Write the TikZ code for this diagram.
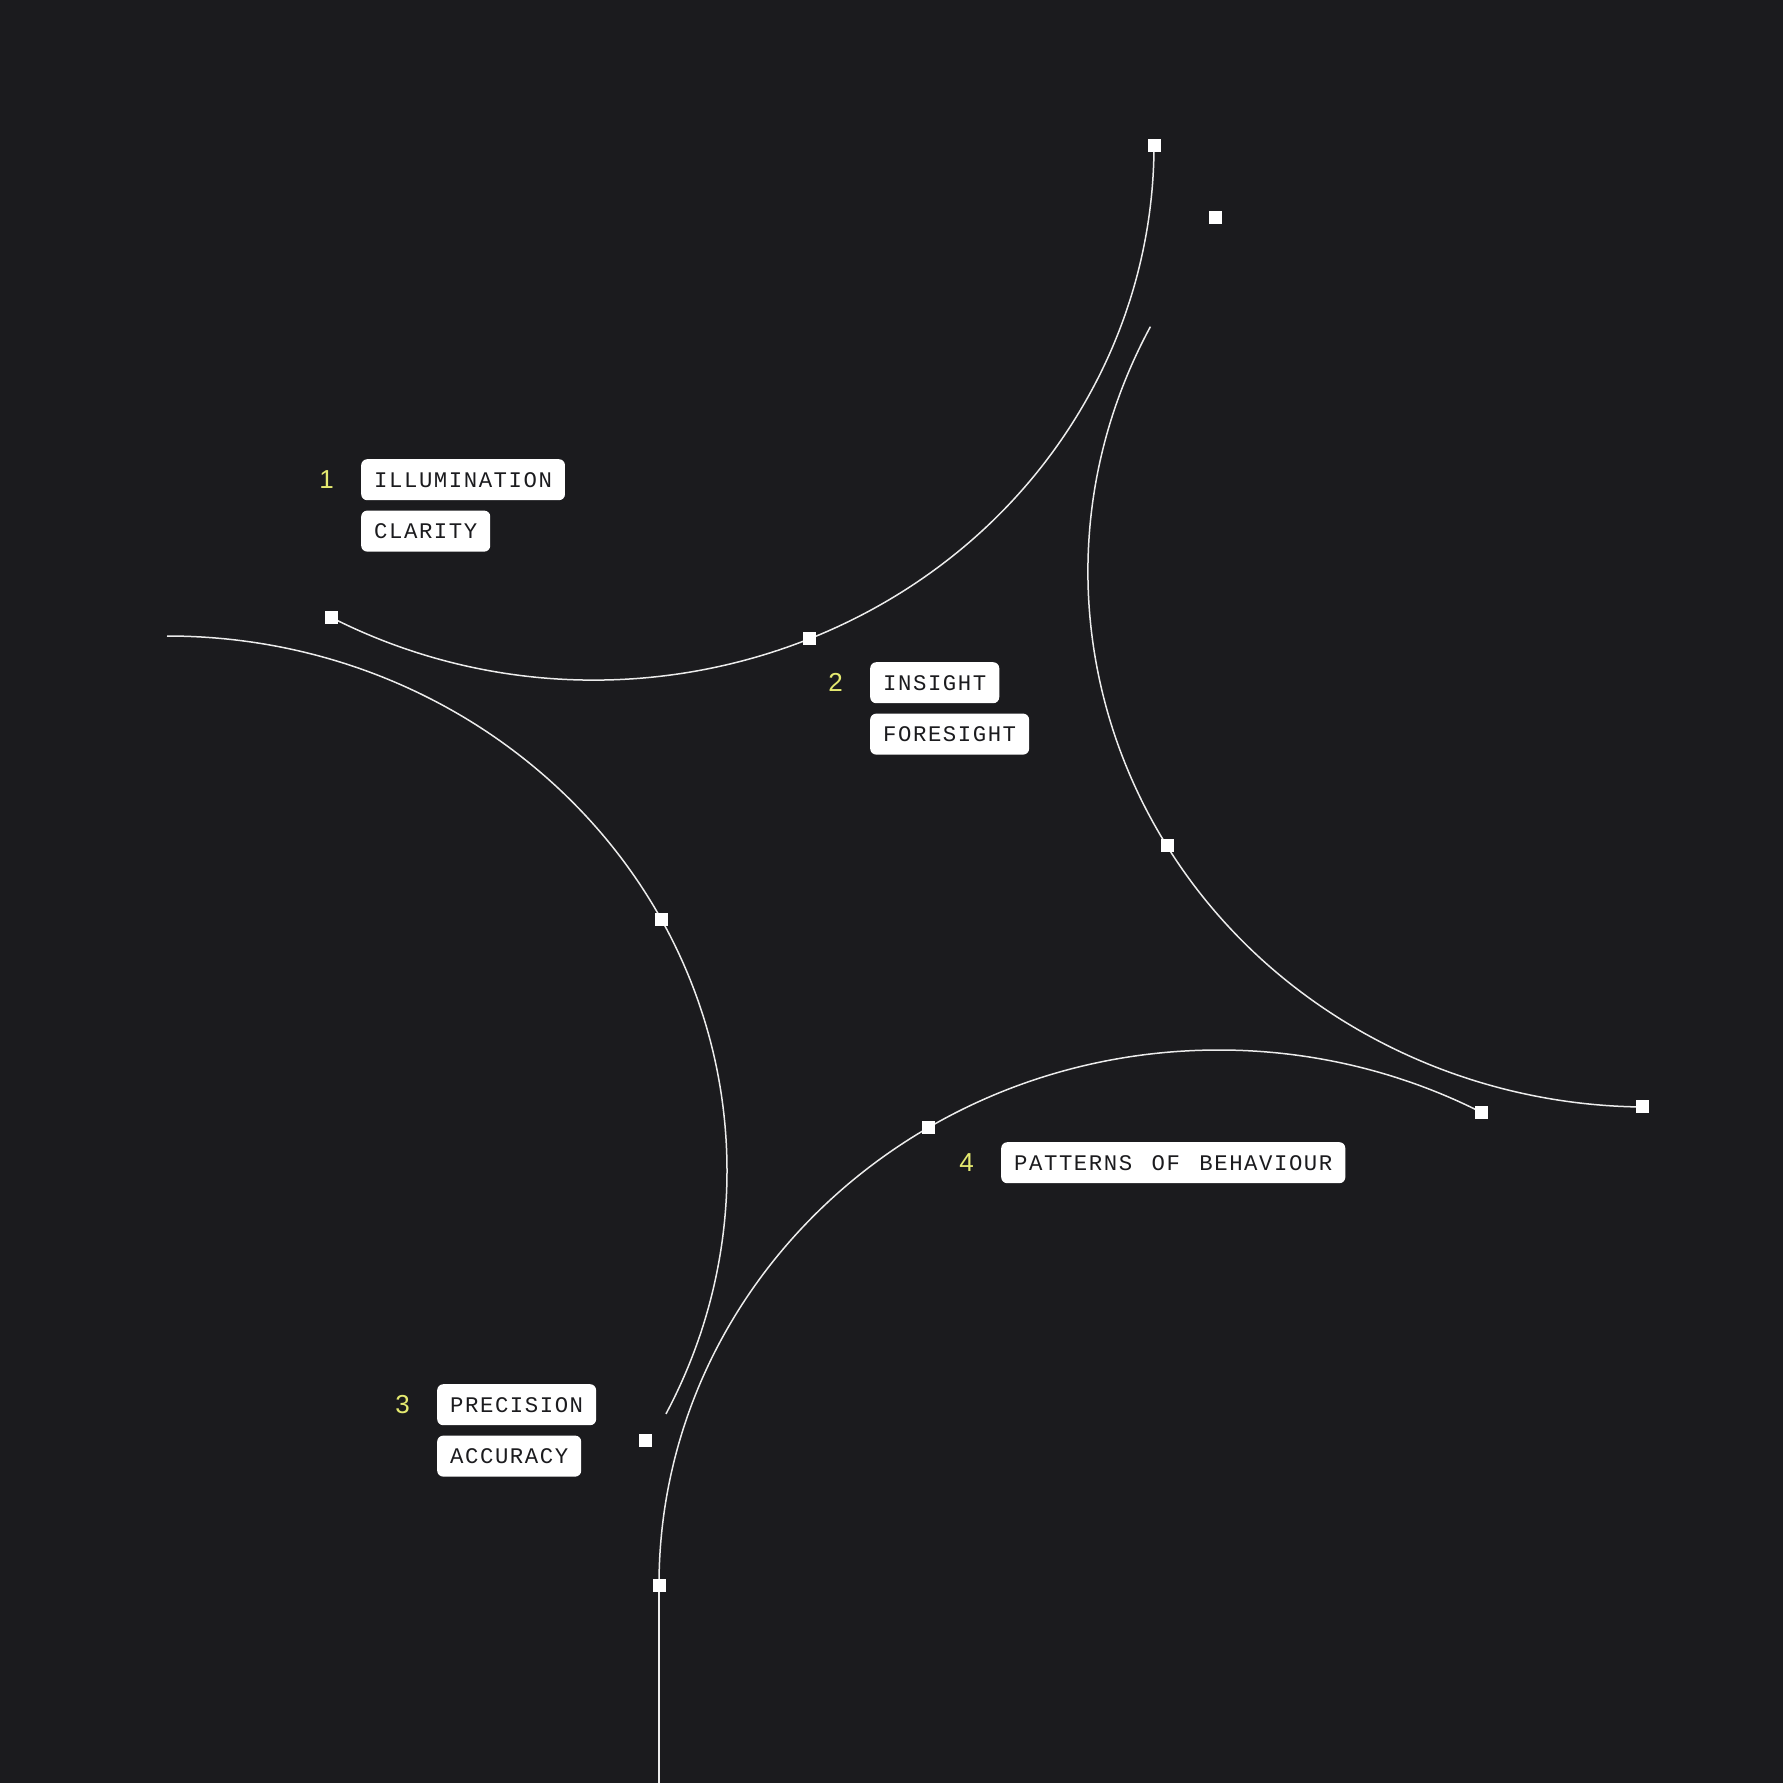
\documentclass[tikz,border=0pt]{standalone}
\usepackage{fontspec}
\setmainfont{Liberation Sans}
\newfontfamily\tagfont[LetterSpace=7]{Liberation Mono}
\usetikzlibrary{positioning}

\definecolor{bg}{RGB}{27,27,30}
\definecolor{wire}{RGB}{236,236,236}
\definecolor{numcol}{RGB}{228,233,112}

\begin{document}
\begin{tikzpicture} [
    x=1pt, y=1pt,
    node distance=10pt,
  ]

  \tikzstyle{curve} = [
    line width=1.5pt,
    draw=wire,
  ]
  \tikzstyle{dot} = [
    fill=white,
    minimum size=13pt,
    inner sep=0pt,
  ]
  \tikzstyle{tag} = [
    fill=white,
    rounded corners=6pt,
    text=bg,
    font=\tagfont\fontsize{22.3}{24}\selectfont,
    minimum height=41pt,
    inner xsep=13pt,
    inner ysep=0pt,
  ]
  \tikzstyle{num} = [
    text=numcol,
    font=\fontsize{26}{28}\selectfont,
    inner sep=0pt,
  ]

  \fill[bg] (0,0) rectangle (1783,-1783);
  \useasboundingbox (0,0) rectangle (1783,-1783);

  \coordinate (c1) at (594,-145);
  \coordinate (c2) at (1648,-572);
  \coordinate (c3) at (167,-1171);
  \coordinate (c4) at (1219,-1585);
  \coordinate (foot) at (659,-1783);

  % four arcs
  \draw[curve] (c1) ++(242.1:560pt and 535pt)
    arc[start angle=242.1, end angle=360, x radius=560pt, y radius=535pt];
  \draw[curve] (c2) ++(152.7:560pt and 535pt)
    arc[start angle=152.7, end angle=270, x radius=560pt, y radius=535pt];
  \draw[curve] (c3) ++(90:560pt and 535pt)
    arc[start angle=90, end angle=-27, x radius=560pt, y radius=535pt];
  \draw[curve] (c4) ++(180:560pt and 535pt) coordinate (knee)
    arc[start angle=180, end angle=62, x radius=560pt, y radius=535pt];
  \draw[curve] (knee) -- (foot);

  % squares
  \path (c1) ++(242.1:560pt and 535pt) node[dot] (s1a) {};
  \path (c1) ++(292.6:560pt and 535pt) node[dot] (s1b) {};
  \path (c1) ++(360:560pt and 535pt)   node[dot] (s1c) {};
  \path (c2) ++(210.8:560pt and 535pt) node[dot] (s2a) {};
  \path (c2) ++(269.4:560pt and 535pt) node[dot] (s2b) {};
  \path (c3) ++(28:560pt and 535pt)    node[dot] (s3a) {};
  \node[dot] at (knee) (s4a) {};
  \path (c4) ++(121.3:560pt and 535pt) node[dot] (s4b) {};
  \path (c4) ++(62:560pt and 535pt)    node[dot] (s4c) {};
  \node[dot] at (1215,-217)  (free1) {};
  \node[dot] at (645,-1440)  (free3) {};

  % labels
  \node[tag, anchor=north west] at (361,-459) (illum) {ILLUMINATION};
  \node[tag, below=10pt of illum.south west, anchor=north west] (clar) {CLARITY};
  \node[num, left=27pt of illum.west] (n1) {1};

  \node[tag, anchor=north west] at (870,-662) (insight) {INSIGHT};
  \node[tag, below=10pt of insight.south west, anchor=north west] (fore) {FORESIGHT};
  \node[num, left=27pt of insight.west] (n2) {2};

  \node[tag, anchor=north west] at (437,-1384) (prec) {PRECISION};
  \node[tag, below=10pt of prec.south west, anchor=north west] (acc) {ACCURACY};
  \node[num, left=27pt of prec.west] (n3) {3};

  \node[tag, anchor=north west] at (1001,-1142) (pattern)
    {PATTERNS\hspace{4.5pt} OF\hspace{4.5pt} BEHAVIOUR};
  \node[num, left=27pt of pattern.west] (n4) {4};

\end{tikzpicture}
\end{document}
